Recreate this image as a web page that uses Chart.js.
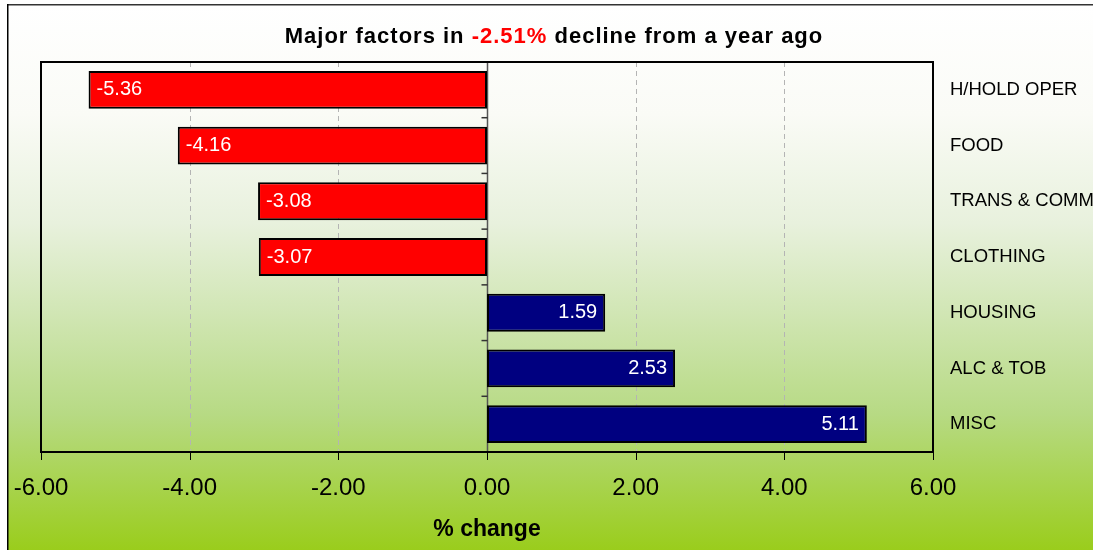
<!DOCTYPE html>
<html>
<head>
<meta charset="utf-8">
<style>
  html, body { margin: 0; padding: 0; background: #ffffff; }
  #c { display: block; }
</style>
<script src="https://cdn.jsdelivr.net/npm/chart.js@4.4.1/dist/chart.umd.min.js"></script>
</head>
<body>
<canvas id="c" width="1093" height="550"></canvas>
<script>
// ---- data ----
const categories = ['H/HOLD OPER', 'FOOD', 'TRANS & COMM', 'CLOTHING', 'HOUSING', 'ALC & TOB', 'MISC'];
const values = [-5.36, -4.16, -3.08, -3.07, 1.59, 2.53, 5.11];
const xTickValues = [-6, -4, -2, 0, 2, 4, 6];
const titleParts = ['Major factors in ', '-2.51%', ' decline from a year ago'];
const titleColors = ['#000000', '#ff0000', '#000000'];
const axisTitle = '% change';

const FONT = '"Liberation Sans", Arial, sans-serif';

const bgPlugin = {
  id: 'bg',
  beforeDraw(chart) {
    const ctx = chart.ctx;
    const W = chart.width, H = chart.height;
    ctx.save();
    ctx.fillStyle = '#ffffff';
    ctx.fillRect(0, 0, W, H);
    const g = ctx.createLinearGradient(0, 5, 0, H);
    g.addColorStop(0, '#ffffff');
    g.addColorStop(0.2, '#fafbf6');
    g.addColorStop(0.4, '#e8f1dd');
    g.addColorStop(0.55, '#d3e7b8');
    g.addColorStop(0.75, '#b7da84');
    g.addColorStop(1, '#9acd1c');
    ctx.fillStyle = g;
    ctx.fillRect(8, 5, W - 8, H - 5);
    // frame
    ctx.strokeStyle = '#333333';
    ctx.lineWidth = 1.5;
    ctx.beginPath();
    ctx.moveTo(8, 4.75); ctx.lineTo(W, 4.75);
    ctx.stroke();
    ctx.strokeStyle = '#000000';
    ctx.beginPath();
    ctx.moveTo(7.75, 4); ctx.lineTo(7.75, H);
    ctx.stroke();
    // title
    ctx.font = 'bold 22px ' + FONT;
    try { ctx.letterSpacing = '1px'; } catch (e) {}
    ctx.textBaseline = 'alphabetic';
    ctx.textAlign = 'left';
    let total = 0;
    const widths = titleParts.map(t => { const w = ctx.measureText(t).width; total += w; return w; });
    let x = 554 - total / 2;
    titleParts.forEach((t, i) => {
      ctx.fillStyle = titleColors[i];
      ctx.fillText(t, x, 43);
      x += widths[i];
    });
    ctx.restore();
  },
  beforeDatasetsDraw(chart) {
    const ctx = chart.ctx;
    const xs = chart.scales.x, ys = chart.scales.y;
    const a = chart.chartArea;
    ctx.save();
    // dashed grid
    ctx.strokeStyle = '#b4b4b4';
    ctx.lineWidth = 1;
    ctx.setLineDash([5, 4]);
    xTickValues.forEach(v => {
      if (v === 0 || v === xs.min || v === xs.max) return;
      const px = Math.round(xs.getPixelForValue(v)) + 0.5;
      ctx.beginPath(); ctx.moveTo(px, a.top); ctx.lineTo(px, a.bottom); ctx.stroke();
    });
    ctx.setLineDash([]);
    // zero line
    const zx = Math.round(xs.getPixelForValue(0)) + 0.5;
    ctx.strokeStyle = '#555555';
    ctx.lineWidth = 1.5;
    ctx.beginPath(); ctx.moveTo(zx, a.top); ctx.lineTo(zx, a.bottom); ctx.stroke();
    // y ticks at category boundaries
    ctx.lineWidth = 1.5;
    ctx.strokeStyle = '#333333';
    for (let i = 1; i < categories.length; i++) {
      const py = (ys.getPixelForValue(i - 1) + ys.getPixelForValue(i)) / 2;
      ctx.beginPath(); ctx.moveTo(zx - 6, py); ctx.lineTo(zx, py); ctx.stroke();
    }
    // x ticks below plot
    ctx.strokeStyle = '#000000';
    ctx.lineWidth = 1;
    xTickValues.forEach(v => {
      const px = Math.round(xs.getPixelForValue(v)) + 0.5;
      ctx.beginPath(); ctx.moveTo(px, a.bottom); ctx.lineTo(px, a.bottom + 8); ctx.stroke();
    });
    // plot border
    ctx.strokeStyle = '#000000';
    ctx.lineWidth = 2;
    ctx.strokeRect(a.left, a.top, a.right - a.left, a.bottom - a.top);
    ctx.restore();
  },
  afterDatasetsDraw(chart) {
    const ctx = chart.ctx;
    const meta = chart.getDatasetMeta(0);
    ctx.save();
    ctx.font = '20px ' + FONT;
    ctx.fillStyle = '#ffffff';
    ctx.textBaseline = 'middle';
    meta.data.forEach((bar, i) => {
      const v = values[i];
      const label = v.toFixed(2);
      if (v < 0) {
        ctx.textAlign = 'left';
        ctx.fillText(label, bar.x + 8, bar.y);
      } else {
        ctx.textAlign = 'right';
        ctx.fillText(label, bar.x - 8, bar.y);
      }
    });
    ctx.restore();
  }
};

new Chart(document.getElementById('c'), {
  type: 'bar',
  data: {
    labels: categories,
    datasets: [{
      data: values,
      backgroundColor: values.map(v => v < 0 ? '#ff0000' : '#000080'),
      borderColor: '#000000',
      borderWidth: 2,
      borderSkipped: false,
      categoryPercentage: 1.0,
      barPercentage: 0.68
    }]
  },
  options: {
    indexAxis: 'y',
    responsive: false,
    animation: false,
    devicePixelRatio: 1,
    layout: { padding: { top: 62, left: 41, right: 0, bottom: 0 } },
    plugins: {
      legend: { display: false },
      tooltip: { enabled: false },
      title: { display: false }
    },
    scales: {
      x: {
        type: 'linear',
        min: -6,
        max: 6,
        afterBuildTicks(scale) { scale.ticks = xTickValues.map(v => ({ value: v })); },
        afterFit(scale) { scale.height = 98; },
        grid: { display: false, drawTicks: false },
        border: { display: false },
        ticks: {
          padding: 0,
          color: '#000000',
          font: { family: FONT, size: 24, lineHeight: '72px' },
          callback: v => Number(v).toFixed(2),
          maxRotation: 0,
          autoSkip: false
        },
        title: {
          display: true,
          text: axisTitle,
          color: '#000000',
          font: { family: FONT, size: 23, weight: 'bold' },
          padding: { top: 0, bottom: 7 }
        }
      },
      y: {
        position: 'right',
        afterFit(scale) { scale.width = 160; },
        grid: { display: false, drawTicks: false },
        border: { display: false },
        ticks: {
          padding: 17,
          color: '#000000',
          font: { family: FONT, size: 18.5 },
          autoSkip: false
        }
      }
    }
  },
  plugins: [bgPlugin]
});
</script>
</body>
</html>
